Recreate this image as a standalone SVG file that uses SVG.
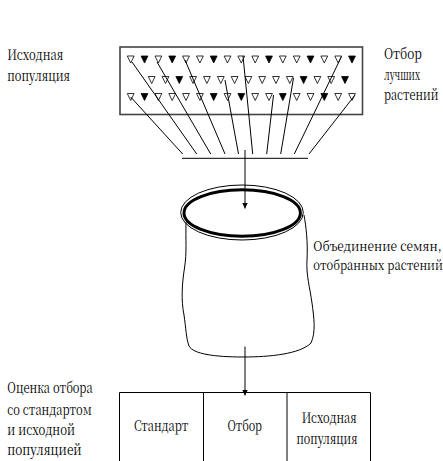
<svg xmlns="http://www.w3.org/2000/svg" xmlns:xlink="http://www.w3.org/1999/xlink" width="443" height="461" viewBox="0 0 443 461">
<style>
text{font-family:"Noto Serif CJK SC","Liberation Serif",serif;font-size:12px;fill:#000}
.ln{stroke:#000;stroke-width:1;fill:none}
.tw{fill:#fff;stroke:#000;stroke-width:0.8}
.tb{fill:#000;stroke:#000;stroke-width:0.8}
</style>
<defs>
<path id="tw" class="tw" d="M-3.4,0 L3.4,0 L0,7 Z"/>
<path id="tb" class="tb" d="M-3.4,0 L3.4,0 L0,7 Z"/>
<marker id="ah" viewBox="0 0 10 10" refX="10" refY="5" markerWidth="6" markerHeight="8" markerUnits="userSpaceOnUse" orient="auto">
<path d="M0,0 L10,5 L0,10 Z" fill="#000"/>
</marker>
</defs>
<rect width="443" height="461" fill="#fff"/>

<g id="population">
<rect x="120" y="47" width="242.5" height="67.5" fill="#fff" stroke="#444" stroke-width="1.6"/>
<g id="row1">
<use xlink:href="#tw" x="130.7" y="56"/><use xlink:href="#tb" x="144.5" y="56"/><use xlink:href="#tw" x="158.4" y="56"/><use xlink:href="#tb" x="172.2" y="56"/><use xlink:href="#tw" x="186" y="56"/><use xlink:href="#tw" x="199.9" y="56"/><use xlink:href="#tb" x="213.7" y="56"/><use xlink:href="#tw" x="227.5" y="56"/><use xlink:href="#tw" x="241.3" y="56"/><use xlink:href="#tw" x="255.2" y="56"/><use xlink:href="#tb" x="269" y="56"/><use xlink:href="#tw" x="282.8" y="56"/><use xlink:href="#tw" x="296.7" y="56"/><use xlink:href="#tb" x="310.5" y="56"/><use xlink:href="#tw" x="324.3" y="56"/><use xlink:href="#tw" x="338.2" y="56"/><use xlink:href="#tb" x="352" y="56"/>
</g>
<g id="row2">
<use xlink:href="#tw" x="151.7" y="76.5"/><use xlink:href="#tw" x="165.5" y="76.5"/><use xlink:href="#tb" x="179.3" y="76.5"/><use xlink:href="#tw" x="193.1" y="76.5"/><use xlink:href="#tw" x="206.9" y="76.5"/><use xlink:href="#tw" x="220.8" y="76.5"/><use xlink:href="#tw" x="234.6" y="76.5"/><use xlink:href="#tw" x="248.4" y="76.5"/><use xlink:href="#tw" x="262.2" y="76.5"/><use xlink:href="#tw" x="276" y="76.5"/><use xlink:href="#tw" x="289.8" y="76.5"/><use xlink:href="#tb" x="303.6" y="76.5"/><use xlink:href="#tw" x="317.4" y="76.5"/><use xlink:href="#tw" x="331.2" y="76.5"/><use xlink:href="#tb" x="345" y="76.5"/>
</g>
<g id="row3">
<use xlink:href="#tw" x="130.7" y="93.5"/><use xlink:href="#tb" x="144.5" y="93.5"/><use xlink:href="#tw" x="158.4" y="93.5"/><use xlink:href="#tw" x="172.2" y="93.5"/><use xlink:href="#tw" x="186" y="93.5"/><use xlink:href="#tw" x="199.9" y="93.5"/><use xlink:href="#tb" x="213.7" y="93.5"/><use xlink:href="#tw" x="227.5" y="93.5"/><use xlink:href="#tb" x="241.3" y="93.5"/><use xlink:href="#tw" x="255.2" y="93.5"/><use xlink:href="#tw" x="269" y="93.5"/><use xlink:href="#tb" x="282.8" y="93.5"/><use xlink:href="#tw" x="296.7" y="93.5"/><use xlink:href="#tw" x="310.5" y="93.5"/><use xlink:href="#tb" x="324.3" y="93.5"/><use xlink:href="#tw" x="338.2" y="93.5"/><use xlink:href="#tw" x="352" y="93.5"/>
</g>
</g>

<g id="bar">
<line class="ln" x1="182" y1="158.3" x2="308" y2="158.3"/>
</g>

<g id="cylinder">
<path class="ln" d="M186,222 C185.5,240 187,252 184.5,268 C182,284 181,300 184,315 C186,328 186,338 189,346 C193,354 215,357 243,357 C270,357 300,354 311,343 C316,332 314,318 312,303 C310,288 306,275 307,260 C308,242 306,226 304,215"/>
<ellipse cx="242" cy="212.5" rx="61.3" ry="27.5" fill="none" stroke="#000" stroke-width="1"/>
<ellipse cx="242.2" cy="213" rx="58.2" ry="23.2" fill="none" stroke="#000" stroke-width="3"/>
</g>

<g id="table">
<line class="ln" x1="119.5" y1="392.5" x2="370.5" y2="392.5"/>
<line class="ln" x1="119.5" y1="392.5" x2="119.5" y2="461"/>
<line class="ln" x1="203.5" y1="392.5" x2="203.5" y2="461"/>
<line class="ln" x1="287" y1="392.5" x2="287" y2="461"/>
<line class="ln" x1="370.5" y1="392.5" x2="370.5" y2="461"/>
<text transform="translate(134,431) scale(0.85,1.2083)" textLength="63.9" lengthAdjust="spacingAndGlyphs">Стандарт</text>
<text transform="translate(227.5,431) scale(0.85,1.2083)" textLength="40.6" lengthAdjust="spacingAndGlyphs">Отбор</text>
<text transform="translate(301.7,423.3) scale(0.85,1.2083)" textLength="64.7" lengthAdjust="spacingAndGlyphs">Исходная</text>
<text transform="translate(296.5,444) scale(0.85,1.2083)" textLength="71.8" lengthAdjust="spacingAndGlyphs">популяция</text>
</g>

<g id="connectors">
<line class="ln" x1="130.7" y1="97" x2="182.7" y2="154"/>
<line class="ln" x1="132" y1="62" x2="196.7" y2="154"/>
<line class="ln" x1="157" y1="62" x2="210.7" y2="154"/>
<line class="ln" x1="185" y1="60" x2="225" y2="154"/>
<line class="ln" x1="225" y1="80" x2="238.5" y2="154"/>
<line class="ln" x1="243" y1="56" x2="252.7" y2="154"/>
<line class="ln" x1="273.5" y1="95" x2="266.7" y2="154"/>
<line class="ln" x1="293.5" y1="78" x2="280.7" y2="154"/>
<line class="ln" x1="341.5" y1="56.5" x2="294.3" y2="154"/>
<line class="ln" x1="355" y1="95" x2="309" y2="154"/>
<line class="ln" x1="245" y1="150" x2="245" y2="208.5" marker-end="url(#ah)"/>
<line class="ln" x1="245" y1="346.5" x2="245" y2="395.5" marker-end="url(#ah)"/>
</g>

<g id="labels">
<text transform="translate(7.3,60) scale(0.85,1.2083)" textLength="65.9" lengthAdjust="spacingAndGlyphs">Исходная</text>
<text transform="translate(7.3,80.7) scale(0.85,1.2083)" textLength="73.8" lengthAdjust="spacingAndGlyphs">популяция</text>
<text transform="translate(384,58.7) scale(0.85,1.2083)" textLength="44.4" lengthAdjust="spacingAndGlyphs">Отбор</text>
<text transform="translate(384,79.7) scale(0.85,1.2083)" textLength="42.4" lengthAdjust="spacingAndGlyphs">лучших</text>
<text transform="translate(384,99.7) scale(0.85,1.2083)" textLength="63.9" lengthAdjust="spacingAndGlyphs">растений</text>
<text transform="translate(313.3,251.2) scale(0.85,1.125)" textLength="150.9" lengthAdjust="spacingAndGlyphs">Объединение семян,</text>
<text transform="translate(313.3,270) scale(0.85,1.125)" textLength="152.4" lengthAdjust="spacingAndGlyphs">отобранных растений</text>
<text transform="translate(7.3,393.3) scale(0.85,1.2083)" textLength="100.5" lengthAdjust="spacingAndGlyphs">Оценка отбора</text>
<text transform="translate(7.3,415) scale(0.85,1.2083)" textLength="99.3" lengthAdjust="spacingAndGlyphs">со стандартом</text>
<text transform="translate(7.3,435) scale(0.85,1.2083)" textLength="79.6" lengthAdjust="spacingAndGlyphs">и исходной</text>
<text transform="translate(7.3,455) scale(0.85,1.2083)" textLength="87.5" lengthAdjust="spacingAndGlyphs">популяцией</text>
</g>
</svg>
